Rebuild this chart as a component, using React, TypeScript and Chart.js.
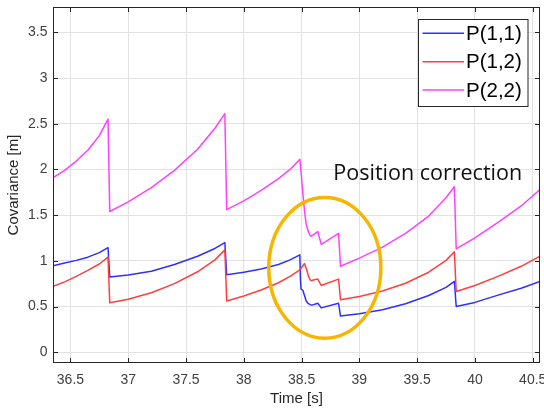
import React, { useEffect, useRef } from 'react';
import { Chart, registerables } from 'chart.js';

Chart.register(...registerables);

// ---- axis definitions ----
const xTicks = [36.5, 37, 37.5, 38, 38.5, 39, 39.5, 40, 40.5];
const yTicks = [0, 0.5, 1, 1.5, 2, 2.5, 3, 3.5];
const xRange = [36.349, 40.563];
const yRange = [-0.118, 3.777];
const xTitle = 'Time [s]';
const yTitle = 'Covariance [m]';

// ---- series ----
const seriesLabels = ['P(1,1)', 'P(1,2)', 'P(2,2)'];
const seriesColors = ['#2f2fff', '#ff3f3f', '#ff40ff'];

const p11Times = [36.349, 36.45, 36.55, 36.65, 36.75, 36.825, 36.84, 37.0, 37.2, 37.4, 37.6, 37.75, 37.836, 37.852, 38.0, 38.15, 38.3, 38.4, 38.485, 38.49, 38.495, 38.51, 38.525, 38.54, 38.555, 38.575, 38.59, 38.64, 38.67, 38.82, 38.837, 39.0, 39.2, 39.4, 39.6, 39.75, 39.822, 39.838, 40.0, 40.2, 40.4, 40.563];
const p11Values = [0.945, 0.975, 1.005, 1.04, 1.09, 1.145, 0.823, 0.845, 0.885, 0.96, 1.05, 1.135, 1.20, 0.848, 0.875, 0.91, 0.96, 1.01, 1.065, 0.80, 0.69, 0.68, 0.62, 0.56, 0.535, 0.52, 0.515, 0.535, 0.485, 0.535, 0.395, 0.42, 0.465, 0.53, 0.62, 0.71, 0.775, 0.50, 0.545, 0.625, 0.70, 0.775];

const p12Times = [36.349, 36.45, 36.55, 36.65, 36.75, 36.825, 36.84, 37.0, 37.2, 37.4, 37.6, 37.75, 37.836, 37.852, 38.0, 38.15, 38.3, 38.4, 38.485, 38.505, 38.525, 38.545, 38.56, 38.575, 38.585, 38.64, 38.67, 38.82, 38.837, 39.0, 39.2, 39.4, 39.6, 39.75, 39.822, 39.838, 40.0, 40.2, 40.4, 40.563];
const p12Values = [0.72, 0.77, 0.83, 0.895, 0.965, 1.04, 0.54, 0.58, 0.65, 0.75, 0.88, 1.01, 1.12, 0.56, 0.615, 0.68, 0.76, 0.83, 0.90, 0.935, 0.97, 0.90, 0.83, 0.79, 0.785, 0.80, 0.73, 0.80, 0.575, 0.61, 0.67, 0.755, 0.875, 1.005, 1.10, 0.665, 0.73, 0.83, 0.94, 1.05];

const p22Times = [36.349, 36.45, 36.55, 36.65, 36.75, 36.825, 36.84, 37.0, 37.2, 37.4, 37.6, 37.75, 37.836, 37.852, 38.0, 38.15, 38.3, 38.4, 38.485, 38.495, 38.51, 38.525, 38.54, 38.555, 38.565, 38.575, 38.585, 38.64, 38.67, 38.82, 38.837, 39.0, 39.2, 39.4, 39.6, 39.75, 39.822, 39.838, 40.0, 40.2, 40.4, 40.563];
const p22Values = [1.91, 1.99, 2.09, 2.21, 2.37, 2.55, 1.54, 1.645, 1.80, 1.99, 2.22, 2.45, 2.61, 1.56, 1.655, 1.77, 1.90, 2.0, 2.11, 1.98, 1.75, 1.55, 1.40, 1.33, 1.30, 1.275, 1.27, 1.32, 1.18, 1.30, 0.94, 1.03, 1.15, 1.30, 1.49, 1.69, 1.81, 1.13, 1.25, 1.42, 1.60, 1.78];

// ---- annotation ----
const annotationText = 'Position correction';
const annotationAnchor = [38.775, 1.887];
const ellipseCenter = [38.701, 0.924];
const ellipseRadii = [0.485, 0.77];

const FONT = '"Liberation Sans", Arial, sans-serif';

function toPoints(times: number[], values: number[]) {
  return times.map((t, i) => ({ x: t, y: values[i] }));
}

const decorPlugin = {
  id: 'decor',
  afterDatasetsDraw(chart: any) {
    const { ctx, chartArea: a } = chart;
    const x = chart.scales.x;
    const y = chart.scales.y;
    ctx.save();

    // axes box
    ctx.strokeStyle = '#262626';
    ctx.lineWidth = 1;
    ctx.strokeRect(a.left + 0.5, a.top + 0.5, a.right - a.left - 1, a.bottom - a.top - 1);

    // inward ticks
    ctx.beginPath();
    for (const v of xTicks) {
      const px = Math.round(x.getPixelForValue(v)) + 0.5;
      ctx.moveTo(px, a.bottom);
      ctx.lineTo(px, a.bottom - 5);
      ctx.moveTo(px, a.top);
      ctx.lineTo(px, a.top + 5);
    }
    for (const v of yTicks) {
      const py = Math.round(y.getPixelForValue(v)) + 0.5;
      ctx.moveTo(a.left, py);
      ctx.lineTo(a.left + 5, py);
      ctx.moveTo(a.right, py);
      ctx.lineTo(a.right - 5, py);
    }
    ctx.stroke();

    // ellipse
    const cx = x.getPixelForValue(ellipseCenter[0]);
    const cy = y.getPixelForValue(ellipseCenter[1]);
    const rx = x.getPixelForValue(ellipseCenter[0] + ellipseRadii[0]) - cx;
    const ry = cy - y.getPixelForValue(ellipseCenter[1] + ellipseRadii[1]);
    ctx.beginPath();
    ctx.ellipse(cx, cy, rx, ry, 0, 0, Math.PI * 2);
    ctx.strokeStyle = '#f7b500';
    ctx.lineWidth = 3.5;
    ctx.stroke();

    // annotation text
    ctx.font = '21.5px "Open Sans", sans-serif';
    ctx.fillStyle = '#111111';
    ctx.textAlign = 'left';
    ctx.textBaseline = 'alphabetic';
    ctx.fillText(annotationText, x.getPixelForValue(annotationAnchor[0]), y.getPixelForValue(annotationAnchor[1]));

    // legend
    const lw = 109.5;
    const lh = 87;
    const lx = a.right - 122;
    const ly = a.top + 12;
    ctx.fillStyle = '#ffffff';
    ctx.fillRect(lx, ly, lw, lh);
    ctx.strokeStyle = '#262626';
    ctx.lineWidth = 1;
    ctx.strokeRect(lx + 0.5, ly + 0.5, lw, lh);
    ctx.font = '20.5px ' + FONT;
    ctx.textBaseline = 'middle';
    ctx.textAlign = 'left';
    chart.data.datasets.forEach((ds: any, i: number) => {
      const rowY = ly + 14.3 + i * 28.4;
      ctx.beginPath();
      ctx.moveTo(lx + 4.5, rowY);
      ctx.lineTo(lx + 46, rowY);
      ctx.strokeStyle = ds.borderColor;
      ctx.lineWidth = 1.5;
      ctx.stroke();
      ctx.fillStyle = '#000000';
      ctx.fillText(ds.label, lx + 48, rowY + 1);
    });

    ctx.restore();
  },
};

export default function App() {
  const ref = useRef<HTMLCanvasElement>(null);

  useEffect(() => {
    document.body.style.margin = '0';
    const seriesData = [
      toPoints(p11Times, p11Values),
      toPoints(p12Times, p12Values),
      toPoints(p22Times, p22Values),
    ];
    const chart = new Chart(ref.current as HTMLCanvasElement, {
      type: 'line',
      data: {
        datasets: seriesLabels.map((label, i) => ({
          label,
          data: seriesData[i],
          borderColor: seriesColors[i],
          backgroundColor: seriesColors[i],
          borderWidth: 1.5,
          pointRadius: 0,
          tension: 0,
          borderJoinStyle: 'round' as const,
          order: seriesLabels.length - i,
        })),
      },
      options: {
        animation: false,
        responsive: false,
        devicePixelRatio: 1,
        layout: { padding: { top: 7, right: 4, left: 0, bottom: 0 } },
        plugins: {
          legend: { display: false },
          tooltip: { enabled: false },
        },
        scales: {
          x: {
            type: 'linear',
            min: xRange[0],
            max: xRange[1],
            afterBuildTicks: (scale: any) => {
              scale.ticks = xTicks.map((v) => ({ value: v }));
            },
            afterFit: (scale: any) => {
              scale.height = 46;
              scale.paddingLeft = 0;
              scale.paddingRight = 0;
            },
            ticks: {
              autoSkip: false,
              maxRotation: 0,
              padding: 9,
              color: '#404040',
              font: { family: FONT, size: 14 },
              callback: (v: any) => String(Number(v)),
            },
            grid: { color: '#e2e2e2', drawTicks: false },
            border: { display: false },
            title: {
              display: true,
              text: xTitle,
              color: '#262626',
              font: { family: FONT, size: 15 },
              padding: { top: 0, bottom: 1 },
            },
          },
          y: {
            type: 'linear',
            min: yRange[0],
            max: yRange[1],
            afterBuildTicks: (scale: any) => {
              scale.ticks = yTicks.map((v) => ({ value: v }));
            },
            afterFit: (scale: any) => {
              scale.width = 53;
              scale.paddingTop = 0;
              scale.paddingBottom = 0;
            },
            ticks: {
              padding: 5.5,
              color: '#404040',
              font: { family: FONT, size: 14 },
              callback: (v: any) => String(Number(v)),
            },
            grid: { color: '#e2e2e2', drawTicks: false },
            border: { display: false },
            title: {
              display: true,
              text: yTitle,
              color: '#262626',
              font: { family: FONT, size: 15 },
              padding: { top: 5, bottom: 0 },
            },
          },
        },
      },
      plugins: [decorPlugin],
    });
    return () => chart.destroy();
  }, []);

  return (
    <div style={{ width: 544, height: 409 }}>
      <canvas ref={ref} width={544} height={409} style={{ display: 'block' }} />
    </div>
  );
}
